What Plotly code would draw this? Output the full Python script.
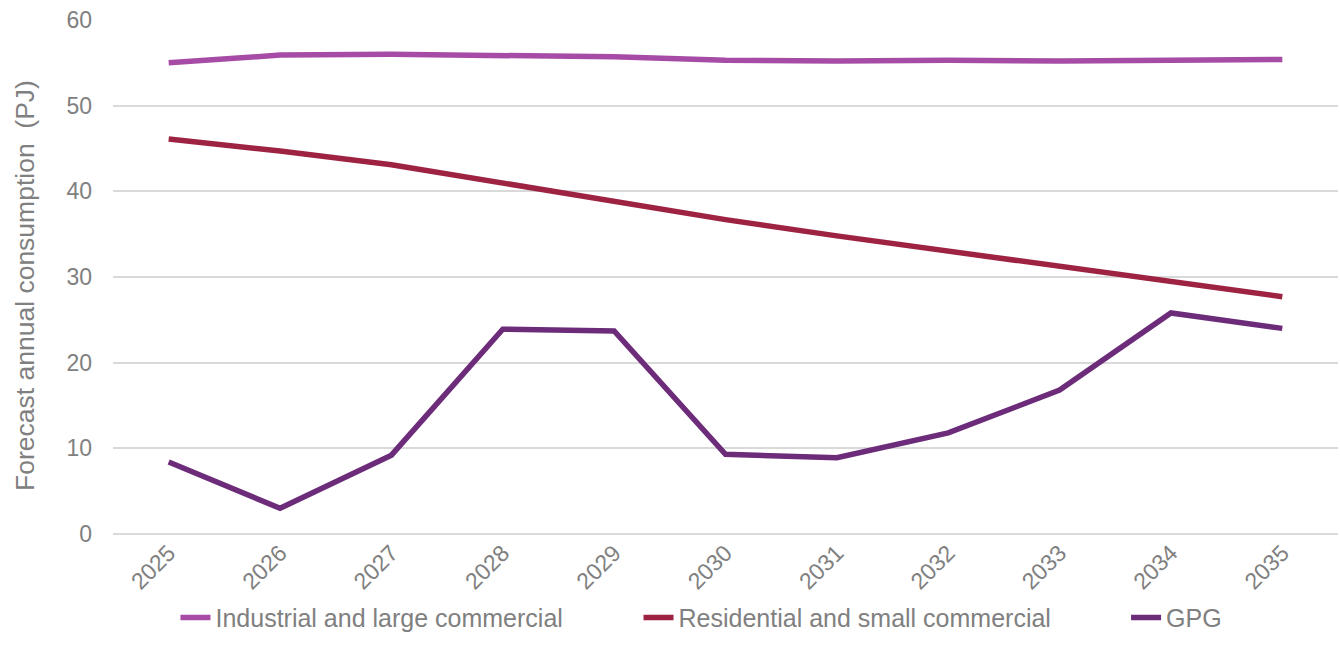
import plotly.graph_objects as go

years = ["2025", "2026", "2027", "2028", "2029", "2030", "2031", "2032", "2033", "2034", "2035"]
industrial = [55.0, 55.9, 56.0, 55.9, 55.7, 55.3, 55.2, 55.3, 55.2, 55.3, 55.4]
residential = [46.1, 44.7, 43.1, 41.0, 38.9, 36.7, 34.8, 33.0, 31.3, 29.5, 27.7]
gpg = [8.4, 3.0, 9.2, 23.9, 23.7, 9.3, 8.9, 11.8, 16.8, 25.8, 24.0]

series = [
    ("Industrial and large commercial", industrial, "#A64CA6", "legend", 0.051),
    ("Residential and small commercial", residential, "#9E2342", "legend2", 0.429),
    ("GPG", gpg, "#6C2C7A", "legend3", 0.827),
]

L, R, T, B = 113, 2, 20, 128
W, H = 1340, 662
plot_w = W - L - R
plot_h = H - T - B

fig = go.Figure()
legend_cfg = {}
for name, vals, color, leg, lx in series:
    fig.add_trace(go.Scatter(
        x=years, y=vals, name=name, mode="lines",
        line=dict(color=color, width=5.5), legend=leg,
    ))
    legend_cfg[leg] = dict(
        orientation="h", x=lx, xanchor="left", y=-0.163, yanchor="middle",
        font=dict(size=25, color="#808080"), bgcolor="rgba(0,0,0,0)",
    )

font_family = "Liberation Sans, Arial, sans-serif"
fig.update_layout(
    width=W, height=H,
    margin=dict(l=L, r=R, t=T, b=B),
    paper_bgcolor="white", plot_bgcolor="white",
    font=dict(family=font_family, color="#808080", size=22),
    showlegend=True,
    **legend_cfg,
    xaxis=dict(
        type="category", range=[-0.5, 10.5], automargin=False,
        tickangle=-45, showgrid=False, showline=False, zeroline=False,
        tickfont=dict(size=23, color="#808080"), ticks="",
    ),
    yaxis=dict(
        range=[0, 60], dtick=10, gridcolor="#d9d9d9", gridwidth=2, automargin=False,
        zeroline=True, zerolinecolor="#d9d9d9", zerolinewidth=2,
        showline=False, ticks="", ticklabelstandoff=20,
        tickfont=dict(size=23, color="#808080"),
    ),
    annotations=[dict(
        text="Forecast annual consumption  (PJ)", textangle=-90,
        xref="paper", yref="paper",
        x=(25 - L) / plot_w, y=(H - B - 286) / plot_h,
        xanchor="center", yanchor="middle", showarrow=False,
        font=dict(size=26.5, color="#808080"),
    )],
)

fig.write_html("out.html")
